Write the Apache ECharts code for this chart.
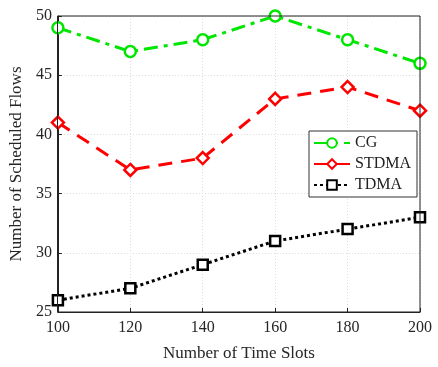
<!DOCTYPE html>
<html><head><meta charset="utf-8">
<script src="https://cdn.jsdelivr.net/npm/echarts@6/dist/echarts.min.js"></script>
<style>html,body{margin:0;padding:0;background:#fff}#c{width:438px;height:367px}</style>
</head><body><div id="c"></div>
<script>
const xValues = [100, 120, 140, 160, 180, 200];
const cg = [49, 47, 48, 50, 48, 46];
const stdma = [41, 37, 38, 43, 44, 42];
const tdma = [26, 27, 29, 31, 32, 33];
const font = 'Liberation Serif';
const chart = echarts.init(document.getElementById('c'));
function pts(arr){ return xValues.map((x,i)=>[x, arr[i]]); }
function mk(name, data, color, dash, symbol, size){
  return {name, type:'line', data: pts(data), symbol, symbolSize:size,
    lineStyle:{color, width:3, type:dash},
    itemStyle:{color:'#fff', borderColor:color, borderWidth:2.5},
    emphasis:{disabled:true}, animation:false, z:3};
}
chart.setOption({
  animation:false,
  grid:{left:57.5, right:18, top:16, bottom:55},
  xAxis:{type:'value', min:100, max:200, interval:20,
    name:'Number of Time Slots', nameLocation:'middle', nameGap:33,
    nameTextStyle:{fontFamily:font, fontSize:17, color:'#262626'},
    axisLine:{show:true, onZero:false, lineStyle:{color:'#222', width:1}},
    axisTick:{inside:true, length:4, lineStyle:{color:'#222'}},
    axisLabel:{fontFamily:font, fontSize:16, color:'#262626', margin:8},
    splitLine:{show:true, lineStyle:{color:'#ddd', type:[1,2]}}},
  yAxis:{type:'value', min:25, max:50, interval:5,
    name:'Number of Scheduled Flows', nameLocation:'middle', nameGap:32,
    nameTextStyle:{fontFamily:font, fontSize:17, color:'#262626'},
    axisLine:{show:true, onZero:false, lineStyle:{color:'#222', width:1}},
    axisTick:{inside:true, length:4, lineStyle:{color:'#222'}},
    axisLabel:{fontFamily:font, fontSize:16, color:'#262626', margin:6},
    splitLine:{show:true, lineStyle:{color:'#ddd', type:[1,2]}}},
  legend:{orient:'vertical', left:309, top:131, itemWidth:36, itemHeight:12, itemGap:5,
    backgroundColor:'#fff', borderColor:'#333', borderWidth:1, padding:[4,6,4,4],
    textStyle:{fontFamily:font, fontSize:16, color:'#222'},
    data:['CG','STDMA','TDMA']},
  graphic:[{type:'rect', shape:{x:57.5, y:16, width:362.5, height:296}, style:{fill:'none', stroke:'#222', lineWidth:1}, silent:true, z:10}],
  series:[
    mk('CG', cg, '#00e600', [14,6,4,6], 'circle', 11),
    mk('STDMA', stdma, '#ff0000', [14,9], 'diamond', 12),
    mk('TDMA', tdma, '#000000', [3,3], 'rect', 10)
  ]
});
</script></body></html>
